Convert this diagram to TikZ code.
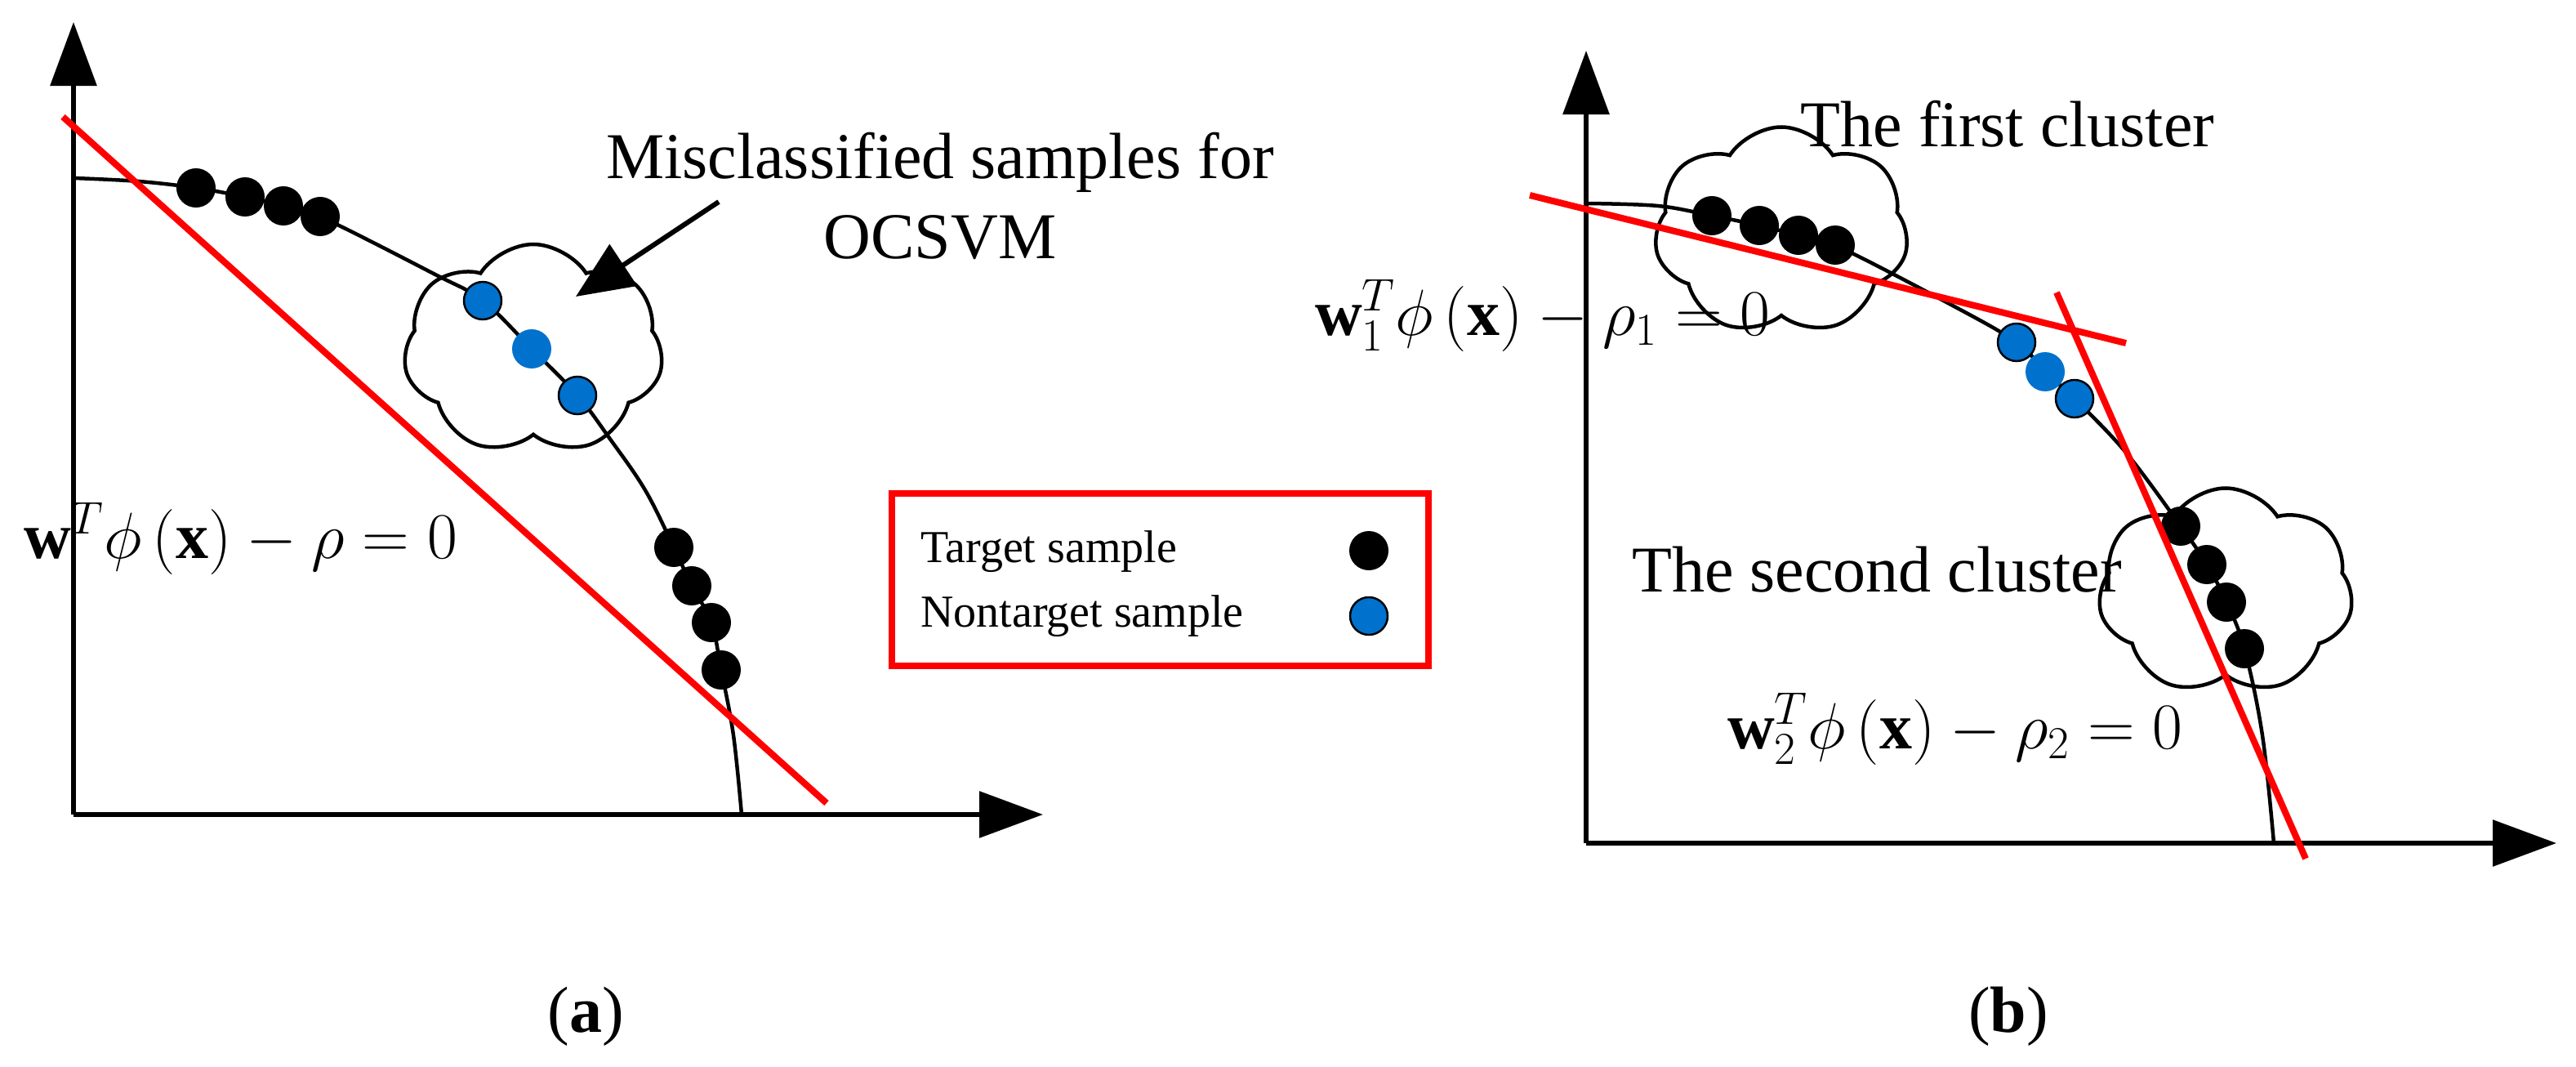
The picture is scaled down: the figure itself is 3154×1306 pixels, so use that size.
\RequirePackage{fix-cm}
\documentclass[tikz,border=0pt]{standalone}
\usepackage{fontspec}
\setmainfont{Liberation Serif}
\usetikzlibrary{arrows.meta,shapes.symbols}
\begin{document}
\begin{tikzpicture}[x=1pt,y=-1pt,
  axis/.style={line width=6pt,-{Triangle[length=78pt,width=56pt]}},
  curve/.style={line width=4.5pt},
  sep/.style={line width=8pt,red},
  tdot/.style={circle,fill=black,draw=black,line width=2pt,minimum size=46pt,inner sep=0pt},
  ndot/.style={circle,fill=nblue,draw=black,line width=2.5pt,minimum size=46pt,inner sep=0pt},
  ndotb/.style={circle,fill=nblue,minimum size=48pt,inner sep=0pt},
  cld/.style={cloud,cloud puffs=7,cloud puff arc=115,aspect=1.1,draw,line width=4.5pt,fill=white,inner sep=0pt},
  lbl/.style={font=\fontsize{80}{90}\selectfont,inner sep=0pt},
]
\definecolor{nblue}{RGB}{0,114,206}
\useasboundingbox (0,0) rectangle (3154,1306);
% ---------------- panel (a)
\coordinate (aO) at (90,997);
\coordinate (aY) at (90,27);
\coordinate (aX) at (1277,997);
\draw[axis] (aO) -- (aY);
\draw[axis] (aO) -- (aX);
\node[cld,minimum width=318pt,minimum height=258pt] (ca) at (653,428) {};
\draw[curve] plot[smooth,tension=0.6] coordinates {(91,218) (170,222) (240,230) (300,241) (347,252) (392,265) (531,335) (591,368) (651,427) (707,484) (746,536) (790,600) (825,670) (847,717) (871,762) (883,820) (898,900) (908,997)};
\foreach \p/\n in {{(240,230)}/a1,{(300,241)}/a2,{(347,252)}/a3,{(392,265)}/a4,{(825,670)}/a5,{(847,717)}/a6,{(871,762)}/a7,{(883,820)}/a8}
  \node[tdot] (\n) at \p {};
\node[ndot] (b1) at (591,368) {};
\node[ndotb] (b2) at (651,427) {};
\node[ndot] (b3) at (707,484) {};
\coordinate (r1) at (77,143);
\coordinate (r2) at (1012,983);
\draw[sep] (r1) -- (r2);
\node[lbl,align=center,font=\fontsize{80}{98}\selectfont] (mis) at (1151,240) {Misclassified samples for\\OCSVM};
\coordinate (arS) at (880,247);
\draw[line width=6pt,-{Triangle[length=70pt,width=60pt]}] (arS) -- (705,363);
\node[lbl,anchor=base west] (fa) at (29,683) {$\mathbf{w}^T\phi\left(\mathbf{x}\right)-\rho=0$};
% legend
\node[draw=red,line width=8pt,minimum width=657pt,minimum height=211pt,inner sep=0pt] (leg) at (1420,709) {};
\node[font=\fontsize{56}{60}\selectfont,anchor=base west,inner sep=0pt] (lt) at (1127,688) {Target sample};
\node[font=\fontsize{56}{60}\selectfont,anchor=base west,inner sep=0pt] (ln) at (1127,767) {Nontarget sample};
\node[tdot] (ld1) at (1676,674) {};
\node[ndot] (ld2) at (1676,754) {};
\node[lbl,anchor=base] (la) at (717,1263) {(\textbf{a})};
% ---------------- panel (b)
\coordinate (bO) at (1942,1032);
\coordinate (bY) at (1942,62);
\coordinate (bX) at (3130,1032);
\draw[axis] (bO) -- (bY);
\draw[axis] (bO) -- (bX);
\node[cld,minimum width=311pt,minimum height=255pt] (c1) at (2181,283) {};
\node[cld,minimum width=312pt,minimum height=253pt] (c2) at (2725,724) {};
\draw[curve] plot[smooth,tension=0.6] coordinates {(1942,249) (2030,252) (2096,264) (2154,276) (2202,288) (2247,300) (2387,372) (2469,419) (2504,455) (2540,488) (2603,554) (2670,644) (2702,691) (2726,737) (2748,794) (2770,900) (2784,1032)};
\foreach \p/\n in {{(2096,264)}/c1a,{(2154,276)}/c1b,{(2202,288)}/c1c,{(2247,300)}/c1d,{(2670,644)}/c2a,{(2702,691)}/c2b,{(2726,737)}/c2c,{(2748,794)}/c2d}
  \node[tdot] (\n) at \p {};
\node[ndot] (e1) at (2469,419) {};
\node[ndotb] (e2) at (2504,455) {};
\node[ndot] (e3) at (2540,488) {};
\coordinate (s1a) at (1873,239);
\coordinate (s1b) at (2603,420);
\coordinate (s2a) at (2518,358);
\coordinate (s2b) at (2823,1051);
\draw[sep] (s1a) -- (s1b);
\draw[sep] (s2a) -- (s2b);
\node[lbl,anchor=base] (t1) at (2458,179) {The first cluster};
\node[lbl,anchor=base] (t2) at (2298,724) {The second cluster};
\node[lbl,anchor=base west] (f1) at (1610,410) {$\mathbf{w}_1^T\phi\left(\mathbf{x}\right)-\rho_1=0$};
\node[lbl,anchor=base west] (f2) at (2115,916) {$\mathbf{w}_2^T\phi\left(\mathbf{x}\right)-\rho_2=0$};
\node[lbl,anchor=base] (lb) at (2459,1263) {(\textbf{b})};
\end{tikzpicture}
\end{document}
